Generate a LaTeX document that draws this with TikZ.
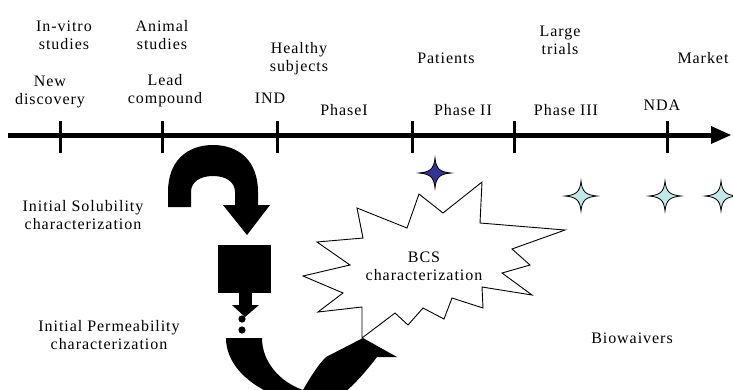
\documentclass[tikz,border=0pt]{standalone}
\usepackage{fontspec}
\setmainfont{Liberation Serif}[LetterSpace=6]
\definecolor{starblue}{RGB}{51,51,153}
\definecolor{starcyan}{RGB}{192,232,232}
\begin{document}
\begin{tikzpicture}[x=1pt,y=-1pt,
  lbl/.style={font=\fontsize{16}{18}\selectfont, align=center, inner sep=0pt},
  tickline/.style={line width=3pt},
  blackshape/.style={fill=black},
  burst/.style={draw=black, fill=white, line width=0.9pt, line join=miter},
  fstar/.pic={\path[pic actions] (-16,0) .. controls (-5,-1) and (-1,-4) .. (0,-15)
     .. controls (1,-4) and (5,-1) .. (16,0)
     .. controls (5,1) and (1,4) .. (0,15)
     .. controls (-1,4) and (-5,1) .. (-16,0) -- cycle;}]
\useasboundingbox (0,0) rectangle (733,389);
\clip (0,0) rectangle (733,389);

% timeline
\coordinate (ta) at (8,135);
\coordinate (tb) at (713,135);
\draw[line width=5pt] (ta) -- (tb);
\fill (711,126) -- (731,135) -- (711,144) -- cycle;
\foreach \x in {60,162,277,412,514,667} \draw[tickline] (\x,121) -- (\x,153);

% labels above the timeline
\node[lbl] (invitro) at (64,35) {In-vitro\\studies};
\node[lbl] (animal) at (162,35) {Animal\\studies};
\node[lbl] (healthy) at (299,59) {Healthy\\subjects};
\node[lbl] (patients) at (446,58) {Patients};
\node[lbl] (large) at (560,40) {Large\\trials};
\node[lbl] (market) at (703,58) {Market};
\node[lbl] (newdisc) at (50,92) {New\\discovery};
\node[lbl] (lead) at (165,91) {Lead\\compound};
\node[lbl] (ind) at (270,98) {IND};
\node[lbl] (ph1) at (344,110) {PhaseI};
\node[lbl] (ph2) at (463,110) {Phase II};
\node[lbl] (ph3) at (566,110) {Phase III};
\node[lbl] (nda) at (662,105) {NDA};

% left labels
\node[lbl] (sol) at (83,215) {Initial Solubility\\characterization};
\node[lbl] (perm) at (109,335) {Initial Permeability\\characterization};
\node[lbl] (bio) at (632,338) {Biowaivers};

% top U-turn arrow
\path[blackshape] (168,207) -- (168,192) .. controls (168,160) and (188,145) .. (213,145)
  .. controls (238,145) and (258,160) .. (258,192) -- (258,205) -- (270,205) -- (247,235)
  -- (223,205) -- (235,205) -- (235,192) .. controls (235,182) and (226,176) .. (213,176)
  .. controls (200,176) and (191,182) .. (191,192) -- (191,207) -- cycle;

% square and small arrow with dots
\fill (218,245) rectangle (271,293);
\fill (239,292) rectangle (252,305);
\fill (232,305) -- (259,305) -- (245,317) -- cycle;
\fill (242,319) circle (3.6);
\fill (242,330) circle (3.6);

% bottom curved arrow
\path[blackshape] (226,338) -- (262,338) .. controls (262,362) and (280,382) .. (303,390)
  .. controls (310,378) and (317,366) .. (326,357) -- (363,338) -- (397,357) -- (377,357)
  .. controls (367,370) and (357,382) .. (343,394) -- (272,394)
  .. controls (245,382) and (226,362) .. (226,338) -- cycle;

% burst
\path[burst] (362,338) -- (362,307) -- (318,312) -- (343,293) -- (303,276) -- (350,265)
  -- (317,242) -- (363,238) -- (357,208) -- (407,228) -- (419,194) -- (443,213)
  -- (482,182) -- (480,223) -- (565,230) -- (512,249) -- (530,265) -- (502,273)
  -- (532,295) -- (482,287) -- (483,308) -- (452,298) -- (444,319) -- (423,308)
  -- (408,325) -- (395,313) -- cycle;
\node[lbl] (bcs) at (424,266) {BCS\\characterization};

% stars
\pic[fill=starblue, draw=black, line width=0.8pt] at (435,173) {fstar};
\pic[fill=starcyan, draw=black, line width=0.8pt] at (581,196) {fstar};
\pic[fill=starcyan, draw=black, line width=0.8pt] at (665,196) {fstar};
\pic[fill=starcyan, draw=black, line width=0.8pt] at (721,196) {fstar};
\end{tikzpicture}
\end{document}
